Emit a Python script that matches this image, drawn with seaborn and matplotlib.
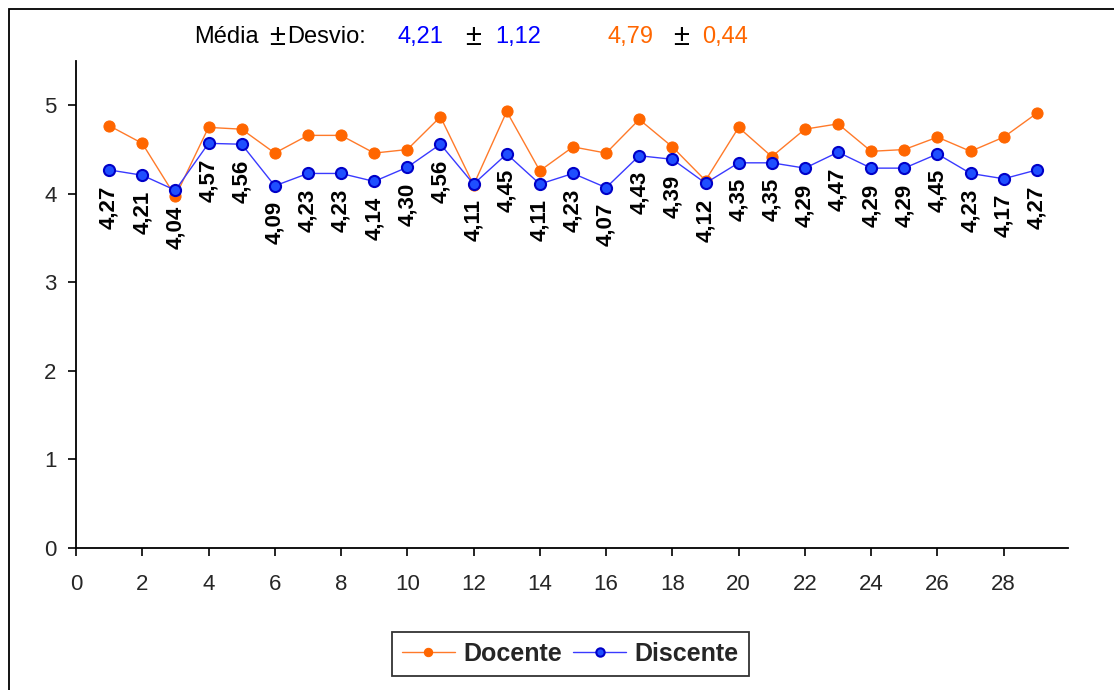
import matplotlib
matplotlib.use("Agg")
import matplotlib.pyplot as plt
import seaborn as sns
import pandas as pd
from matplotlib.patches import Rectangle

# --- data ---
questions = list(range(1, 30))
docente = [4.77, 4.57, 3.97, 4.75, 4.73, 4.46, 4.66, 4.66, 4.46, 4.50,
           4.87, 4.10, 4.93, 4.26, 4.53, 4.46, 4.84, 4.53, 4.15, 4.75,
           4.42, 4.73, 4.79, 4.48, 4.50, 4.64, 4.48, 4.64, 4.91]
discente = [4.27, 4.21, 4.04, 4.57, 4.56, 4.09, 4.23, 4.23, 4.14, 4.30,
            4.56, 4.11, 4.45, 4.11, 4.23, 4.07, 4.43, 4.39, 4.12, 4.35,
            4.35, 4.29, 4.47, 4.29, 4.29, 4.45, 4.23, 4.17, 4.27]
series_names = ["Docente", "Discente"]
summary_disc = ("4,21", "1,12")
summary_doc = ("4,79", "0,44")

sns.set_theme(style="white")
plt.rcParams['font.family'] = ['Liberation Sans', 'DejaVu Sans']

df = pd.DataFrame({
    "Questão": questions * 2,
    "Média": docente + discente,
    "Grupo": [series_names[0]] * len(docente) + [series_names[1]] * len(discente),
})

fig = plt.figure(figsize=(11.14, 6.9), dpi=100)
ax = fig.add_axes([0.0682, 0.2058, 0.8905, 0.7058])

orange = "#ff6600"
blue = "#0000ff"

sns.lineplot(data=df[df["Grupo"] == "Docente"], x="Questão", y="Média", ax=ax,
             color="#ff7a2a", lw=1.0, marker="o", markersize=8,
             markerfacecolor=orange, markeredgecolor=orange, label="Docente")
sns.lineplot(data=df[df["Grupo"] == "Discente"], x="Questão", y="Média", ax=ax,
             color="#3a3aff", lw=1.0, marker="o", markersize=8,
             markerfacecolor="#1f4fff", markeredgecolor="#0000c8", markeredgewidth=1.5,
             label="Discente")

# rotated value labels under the Discente points
for q, v in zip(questions, discente):
    ax.annotate(f"{v:.2f}".replace(".", ","), (q, v), xytext=(0, -11),
                textcoords="offset points", rotation=90, ha="center", va="top",
                fontsize=16, fontweight="bold", color="black")

ax.set_xlim(0, 29.94)
ax.set_ylim(0, 5.5)
ax.set_xticks(range(0, 29, 2))
ax.set_yticks(range(0, 6))
ax.set_xlabel("")
ax.set_ylabel("")
ax.tick_params(axis="both", direction="out", length=6, width=1.2, color="black",
               labelsize=16, bottom=True, left=True)
ax.tick_params(axis="x", pad=13)
ax.tick_params(axis="y", pad=8)
sns.despine(ax=ax)
for s in ["left", "bottom"]:
    ax.spines[s].set_color("black")
    ax.spines[s].set_linewidth(1.3)

leg = ax.legend(loc="center", bbox_to_anchor=(0.512, 0.052),
                bbox_transform=fig.transFigure, ncol=2, frameon=True,
                fancybox=False, edgecolor="black",
                prop={"weight": "bold", "size": 18}, markerscale=0.75,
                handlelength=2.1, columnspacing=0.45, handletextpad=0.35,
                borderpad=0.4)
leg.get_frame().set_linewidth(1.3)

# header with mean +- deviation
ty = 1 - 37 / 690
hdr = [(194, "Média", "black", 17), (269, "±", "black", 21), (287, "Desvio:", "black", 17),
       (398, summary_disc[0], blue, 17), (465, "±", "black", 21), (495, summary_disc[1], blue, 17),
       (607, summary_doc[0], orange, 17), (673, "±", "black", 21), (702, summary_doc[1], orange, 17)]
for px, txt, col, fs in hdr:
    fig.text(px / 1114, ty, txt, fontsize=fs, va="center", color=col)

# outer chart-area border
fig.patches.append(Rectangle((9 / 1114, -0.05), 1.2, 1 - 9 / 690 + 0.05,
                             transform=fig.transFigure, fill=False,
                             edgecolor="black", lw=1.3))

fig.savefig("out.png", dpi=100)
